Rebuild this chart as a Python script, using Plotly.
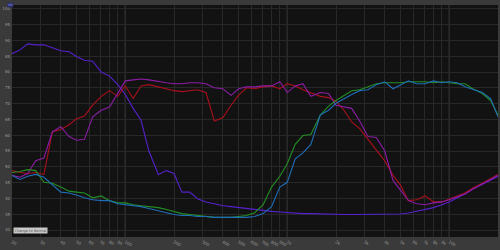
import plotly.graph_objects as go

freq_hz = [20, 22.4, 25, 28, 31.5, 35.5, 40, 45, 50, 56, 63, 71, 80, 90, 100, 112, 125, 140, 160, 180,
           200, 224, 250, 280, 315, 355, 400, 450, 500, 560, 630, 710, 800, 900, 1000, 1120, 1250, 1400,
           1600, 1800, 2000, 2240, 2500, 2800, 3150, 3550, 4000, 4500, 5000, 5600, 6300, 7100, 8000,
           9000, 10000, 11200, 12500, 14000, 16000, 18000, 20000]

indigo_db = [85.8, 87.0, 88.9, 88.6, 88.6, 87.7, 86.7, 86.4, 84.9, 83.7, 83.4, 80.0, 78.7, 76.0, 72.9,
             68.5, 64.8, 55.0, 47.6, 48.8, 47.9, 42.0, 42.0, 39.9, 38.9, 38.3, 37.7, 37.4, 37.1, 36.8,
             36.5, 36.2, 35.9, 35.7, 35.5, 35.4, 35.2, 35.2, 35.1, 34.9, 34.9, 34.9, 34.9, 34.9, 34.9,
             34.9, 34.9, 34.9, 35.1, 35.4, 35.9, 36.5, 37.1, 38.0, 38.9, 40.2, 41.4, 43.0, 44.5, 45.7, 47.0]

red_db = [48.8, 48.2, 47.9, 48.2, 47.6, 61.1, 61.8, 63.3, 65.2, 66.1, 69.5, 72.3, 74.1, 72.3, 75.6,
          71.6, 75.6, 76.0, 75.3, 74.7, 74.1, 73.8, 74.1, 74.4, 73.5, 64.5, 65.5, 69.5, 72.6, 75.0,
          74.7, 75.3, 75.6, 74.7, 76.3, 75.6, 74.4, 73.5, 72.3, 71.9, 70.7, 67.9, 64.2, 62.1, 58.7,
          55.6, 51.9, 47.3, 44.2, 39.3, 39.6, 40.8, 38.9, 38.9, 39.9, 40.8, 41.7, 43.3, 44.8, 46.3, 47.6]

magenta_db = [47.3, 46.7, 47.9, 51.9, 52.8, 61.1, 62.7, 59.6, 58.4, 58.7, 65.8, 67.9, 68.9, 73.5, 77.2,
              77.5, 77.8, 77.5, 76.9, 76.6, 76.3, 76.3, 76.6, 76.6, 76.3, 75.0, 74.7, 72.6, 74.7, 75.3,
              75.3, 75.6, 75.6, 76.9, 73.5, 75.6, 76.3, 72.3, 73.5, 73.2, 69.5, 68.9, 68.5, 64.5, 59.6,
              59.3, 55.0, 45.7, 42.6, 39.3, 38.3, 38.0, 38.6, 38.9, 39.6, 40.5, 41.4, 43.0, 44.5, 46.0, 47.3]

green_db = [48.2, 48.5, 49.1, 48.8, 45.1, 44.8, 43.6, 42.3, 42.0, 41.7, 40.2, 40.8, 39.3, 38.6, 38.6,
            38.0, 37.7, 37.4, 37.1, 36.5, 35.9, 35.2, 34.9, 34.6, 34.3, 34.0, 34.0, 34.0, 34.3, 34.6,
            35.5, 38.0, 43.6, 47.0, 51.0, 57.1, 59.9, 60.2, 66.4, 69.2, 71.0, 72.6, 74.1, 74.4, 75.3,
            76.3, 76.6, 76.6, 76.6, 76.9, 76.9, 76.9, 76.6, 76.9, 76.6, 76.3, 76.3, 74.7, 73.2, 71.0, 66.4]

blue_db = [47.3, 46.0, 47.0, 47.6, 46.7, 44.2, 42.0, 41.7, 41.1, 40.2, 39.6, 39.3, 39.3, 38.3, 38.0,
           37.7, 37.4, 36.8, 36.2, 35.5, 34.9, 34.6, 34.6, 34.3, 34.3, 34.0, 34.0, 34.0, 34.0, 34.0,
           34.3, 35.2, 37.4, 43.6, 45.1, 52.5, 54.4, 57.1, 66.4, 67.9, 70.1, 71.6, 72.9, 74.1, 74.4,
           76.0, 76.9, 74.7, 76.0, 77.2, 76.3, 76.3, 77.2, 76.6, 76.9, 76.6, 75.3, 74.4, 73.5, 71.6, 65.8]

x_tick_vals = [20, 30, 40, 50, 60, 70, 80, 90, 100, 200, 300, 400, 500, 600, 700, 800, 900,
               1000, 2000, 3000, 4000, 5000, 6000, 7000, 8000, 9000, 10000, 20000]
x_tick_text = ["20", "30", "40", "50", "60", "70", "80", "90", "100", "200", "300", "400", "500",
               "600", "700", "800", "900", "1k", "2k", "3k", "4k", "5k", "6k", "7k", "8k", "9k", "10k", "20k"]
y_tick_vals = [30, 35, 40, 45, 50, 55, 60, 65, 70, 75, 80, 85, 90, 95, 100]
decade_lines = [100, 1000, 10000]

series = [
    ("Indigo", indigo_db, "#5522cc"),
    ("Red", red_db, "#a8101c"),
    ("Magenta", magenta_db, "#8c1ca6"),
    ("Green", green_db, "#238f23"),
    ("Blue", blue_db, "#1f6db8"),
]

fig = go.Figure()
for name, vals, col in series:
    fig.add_trace(go.Scatter(x=freq_hz, y=vals, mode="lines", name=name,
                             line=dict(color=col, width=1.1), showlegend=False))

for f in decade_lines:
    fig.add_shape(type="line", xref="x", yref="paper", x0=f, x1=f, y0=0, y1=1,
                  line=dict(color="#4a4a4a", width=1), layer="below")

fig.update_layout(
    width=500, height=250,
    margin=dict(l=9, r=2, t=5, b=7),
    paper_bgcolor="#3a3a3a",
    plot_bgcolor="#121212",
    font=dict(family="DejaVu Sans", size=4, color="#9a9a9a"),
    xaxis=dict(type="log", range=[1.30103, 4.30103], tickvals=x_tick_vals, ticktext=x_tick_text,
               showgrid=True, gridcolor="#282828", gridwidth=1, zeroline=False, showline=False,
               ticks="", tickfont=dict(size=4, color="#9a9a9a"), ticklabelstandoff=1),
    yaxis=dict(range=[27.8, 101.2], tickvals=y_tick_vals, showgrid=True, gridcolor="#282828",
               gridwidth=1, zeroline=False, showline=False, ticks="",
               tickfont=dict(size=4, color="#9a9a9a"), ticklabelstandoff=1),
    showlegend=False,
    annotations=[
        dict(text="dB", xref="paper", yref="paper", x=-0.004, y=1.0, xanchor="center", yanchor="middle",
             showarrow=False, font=dict(size=3.5, color="#7f8ff0"), bgcolor="#2a2a5a", borderpad=0),
        dict(text="Change to Normal", xref="paper", yref="paper", x=0.003, y=0.015,
             xanchor="left", yanchor="bottom", showarrow=False,
             font=dict(size=3.5, color="#555555"), bgcolor="#c8c8c8", borderpad=0.5),
    ],
)

fig.write_html("out.html")
